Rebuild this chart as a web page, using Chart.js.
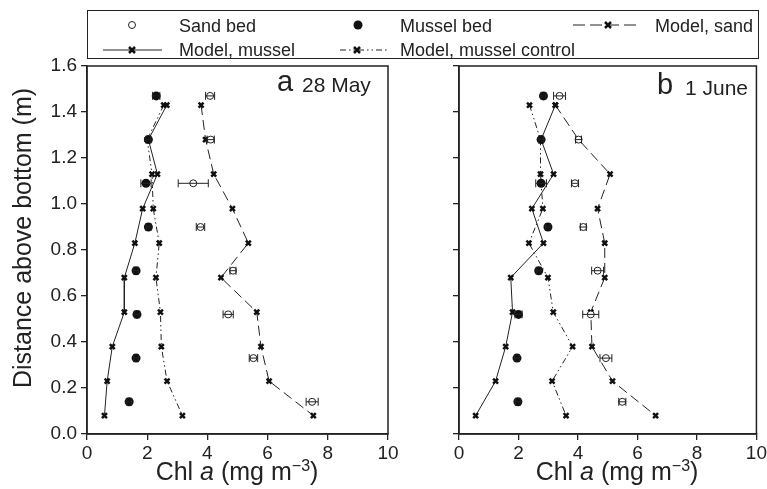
<!DOCTYPE html>
<html>
<head>
<meta charset="utf-8">
<script src="https://cdn.jsdelivr.net/npm/chart.js@4"></script>
<style>
  body { margin: 0; background: #fff; font-family: Arial, "Liberation Sans", sans-serif; color: #222; }
  #wrap { position: relative; width: 767px; height: 489px; overflow: hidden; background: #fff; }
  canvas { position: absolute; top: 0; }
  .txt { position: absolute; white-space: nowrap; line-height: 1; }
  #legendBox { position: absolute; left: 87px; top: 10px; width: 670px; height: 47px; border: 1.5px solid #222; }
</style>
</head>
<body>
<div id="wrap">
  <canvas id="chartA" width="420" height="489" style="left:0"></canvas>
  <canvas id="chartB" width="359" height="489" style="left:410px"></canvas>

  <div id="legendBox"></div>
  <svg width="767" height="489" style="position:absolute;left:0;top:0;pointer-events:none">
    <circle cx="132" cy="25" r="3.5" fill="#fff" stroke="#222" stroke-width="1"/>
    <circle cx="358" cy="25" r="4.5" fill="#111"/>
    <line x1="573" y1="25" x2="640" y2="25" stroke="#222" stroke-width="1" stroke-dasharray="12 5"/>
    <path d="M605 22 L611 28 M605 28 L611 22" stroke="#111" stroke-width="2.5"/>
    <line x1="103" y1="50" x2="162" y2="50" stroke="#222" stroke-width="1"/>
    <path d="M129 47 L135 53 M129 53 L135 47" stroke="#111" stroke-width="2.5"/>
    <line x1="340" y1="50" x2="387" y2="50" stroke="#222" stroke-width="1" stroke-dasharray="6 3 1.5 3 1.5 3"/>
    <path d="M354 47 L360 53 M354 53 L360 47" stroke="#111" stroke-width="2.5"/>
  </svg>
  <div class="txt" style="left:179px;top:17px;font-size:18px">Sand bed</div>
  <div class="txt" style="left:400px;top:17px;font-size:18px">Mussel bed</div>
  <div class="txt" style="left:655px;top:17px;font-size:18px">Model, sand</div>
  <div class="txt" style="left:179px;top:41px;font-size:18px">Model, mussel</div>
  <div class="txt" style="left:400px;top:41px;font-size:18px">Model, mussel control</div>

  <div class="txt" style="left:277px;top:67px;font-size:29px">a</div>
  <div class="txt" style="left:302px;top:74px;font-size:21px">28 May</div>
  <div class="txt" style="left:657px;top:70px;font-size:29px">b</div>
  <div class="txt" style="left:685px;top:77px;font-size:21px">1 June</div>

  <div class="txt" style="left:22px;top:238px;font-size:25px;transform:translate(-50%,-50%) rotate(-90deg)">Distance above bottom (m)</div>
  <div class="txt" style="left:237px;top:459px;font-size:25px;transform:translateX(-50%)">Chl <i>a</i> (mg m<sup style="font-size:16px;vertical-align:9px;line-height:0">−3</sup>)</div>
  <div class="txt" style="left:617px;top:459px;font-size:25px;transform:translateX(-50%)">Chl <i>a</i> (mg m<sup style="font-size:16px;vertical-align:9px;line-height:0">−3</sup>)</div>
</div>

<script>
// heights (m) of observations and model levels
const heightsObs = [1.47, 1.28, 1.09, 0.90, 0.71, 0.52, 0.33, 0.14];
const heightsModel = [1.43, 1.28, 1.13, 0.98, 0.83, 0.68, 0.53, 0.38, 0.23, 0.08];

// a: 28 May
const sandBedA = [4.09, 4.11, 3.53, 3.77, 4.85, 4.69, 5.53, 7.48];
const sandErrA = [0.15, 0.12, 0.5, 0.14, 0.1, 0.17, 0.14, 0.2];
const musselBedA = [2.30, 2.04, 1.96, 2.04, 1.63, 1.66, 1.63, 1.40];
const musselErrA = [0.12, 0.08, 0.17, 0.08, 0.08, 0.08, 0.08, 0.08];
const modelSandA = [3.79, 3.94, 4.21, 4.83, 5.36, 4.45, 5.64, 5.78, 6.05, 7.52];
const modelMusselA = [2.65, 2.04, 2.34, 1.85, 1.59, 1.24, 1.24, 0.84, 0.67, 0.58];
const modelControlA = [2.55, 2.00, 2.16, 2.20, 2.40, 2.29, 2.44, 2.47, 2.66, 3.17];

// b: 1 June
const sandBedB = [3.38, 4.02, 3.90, 4.18, 4.66, 4.43, 4.94, 5.49];
const sandErrB = [0.2, 0.1, 0.12, 0.1, 0.2, 0.27, 0.2, 0.12];
const musselBedB = [2.84, 2.76, 2.76, 2.99, 2.68, 2.00, 1.95, 1.98];
const musselErrB = [0.08, 0.08, 0.18, 0.08, 0.08, 0.12, 0.08, 0.08];
const modelSandB = [3.24, 4.02, 5.08, 4.66, 4.90, 4.90, 4.43, 4.47, 5.16, 6.61];
const modelMusselB = [3.24, 2.76, 3.18, 2.45, 2.84, 1.74, 1.80, 1.57, 1.23, 0.56];
const modelControlB = [2.37, 2.74, 2.74, 2.82, 2.35, 2.99, 3.17, 3.82, 3.13, 3.60];

const xTickVals = [0, 2, 4, 6, 8, 10];
const yTickVals = [0, 0.2, 0.4, 0.6, 0.8, 1.0, 1.2, 1.4, 1.6];

const ink = '#222';
const fam = 'Arial, "Liberation Sans", sans-serif';
const pts = (xs, ys) => xs.map((x, i) => ({ x, y: ys[i] }));

// horizontal error bars, drawn through the scales
const errorBars = {
  id: 'errorBars',
  afterDatasetsDraw(chart) {
    const ctx = chart.ctx, xs = chart.scales.x;
    chart.data.datasets.forEach((ds, di) => {
      if (!ds.errX) return;
      const meta = chart.getDatasetMeta(di);
      ctx.save(); ctx.strokeStyle = ink; ctx.lineWidth = 1;
      meta.data.forEach((p, i) => {
        const v = ds.data[i].x, e = ds.errX[i];
        const x1 = xs.getPixelForValue(v - e), x2 = xs.getPixelForValue(v + e);
        ctx.beginPath();
        ctx.moveTo(x1, p.y); ctx.lineTo(x2, p.y);
        ctx.moveTo(x1, p.y - 4); ctx.lineTo(x1, p.y + 4);
        ctx.moveTo(x2, p.y - 4); ctx.lineTo(x2, p.y + 4);
        ctx.stroke();
      });
      ctx.restore();
    });
  }
};

const frame = {
  id: 'frame',
  beforeDatasetsDraw(chart) {
    const a = chart.chartArea, ctx = chart.ctx;
    ctx.save(); ctx.strokeStyle = ink; ctx.lineWidth = 1.5;
    ctx.strokeRect(a.left, a.top, a.right - a.left, a.bottom - a.top);
    ctx.restore();
  }
};

function makeDatasets(sand, sandErr, mussel, musselErr, mSand, mMussel, mControl) {
  const model = { showLine: true, borderColor: ink, borderWidth: 1, pointStyle: 'crossRot',
                  pointRadius: 3.5, pointBorderWidth: 2.5, pointBorderColor: '#111', fill: false };
  return [
    { label: 'Sand bed', data: pts(sand, heightsObs), errX: sandErr, showLine: false,
      pointStyle: 'circle', pointRadius: 3.5, pointBackgroundColor: '#fff', pointBorderColor: ink, pointBorderWidth: 1 },
    { label: 'Mussel bed', data: pts(mussel, heightsObs), errX: musselErr, showLine: false,
      pointStyle: 'circle', pointRadius: 4.5, pointBackgroundColor: '#111', pointBorderColor: '#111', pointBorderWidth: 0 },
    { label: 'Model, sand', data: pts(mSand, heightsModel), borderDash: [10, 5], ...model },
    { label: 'Model, mussel', data: pts(mMussel, heightsModel), ...model },
    { label: 'Model, mussel control', data: pts(mControl, heightsModel), borderDash: [6, 3, 1.5, 3, 1.5, 3], ...model }
  ];
}

function makeChart(id, datasets, yWidth, padRight, showYLabels) {
  return new Chart(document.getElementById(id), {
    type: 'scatter',
    data: { datasets },
    plugins: [frame, errorBars],
    options: {
      responsive: false, animation: false, devicePixelRatio: 1,
      layout: { padding: { top: 66, right: padRight, left: 0, bottom: 0 } },
      plugins: { legend: { display: false }, tooltip: { enabled: false } },
      scales: {
        x: {
          type: 'linear', min: 0, max: 10,
          afterBuildTicks: ax => { ax.ticks = xTickVals.map(value => ({ value })); },
          afterFit: ax => { ax.height = 55; },
          grid: { drawOnChartArea: false, drawTicks: true, tickLength: 6, color: ink, lineWidth: 1.3 },
          border: { display: true, color: ink, width: 1.5 },
          ticks: { color: ink, font: { size: 19, family: fam }, padding: 2, maxRotation: 0, autoSkip: false,
                   callback: v => String(v) }
        },
        y: {
          type: 'linear', min: 0, max: 1.6,
          afterBuildTicks: ax => { ax.ticks = yTickVals.map(value => ({ value })); },
          afterFit: ax => { ax.width = yWidth; },
          grid: { drawOnChartArea: false, drawTicks: true, tickLength: 6, color: ink, lineWidth: 1.3 },
          border: { display: true, color: ink, width: 1.5 },
          ticks: { color: ink, font: { size: 19, family: fam }, padding: 4, autoSkip: false,
                   callback: v => showYLabels ? Number(v).toFixed(1) : '' }
        }
      }
    }
  });
}

makeChart('chartA', makeDatasets(sandBedA, sandErrA, musselBedA, musselErrA, modelSandA, modelMusselA, modelControlA), 87, 32, true);
makeChart('chartB', makeDatasets(sandBedB, sandErrB, musselBedB, musselErrB, modelSandB, modelMusselB, modelControlB), 49, 11, false);
</script>
</body>
</html>
